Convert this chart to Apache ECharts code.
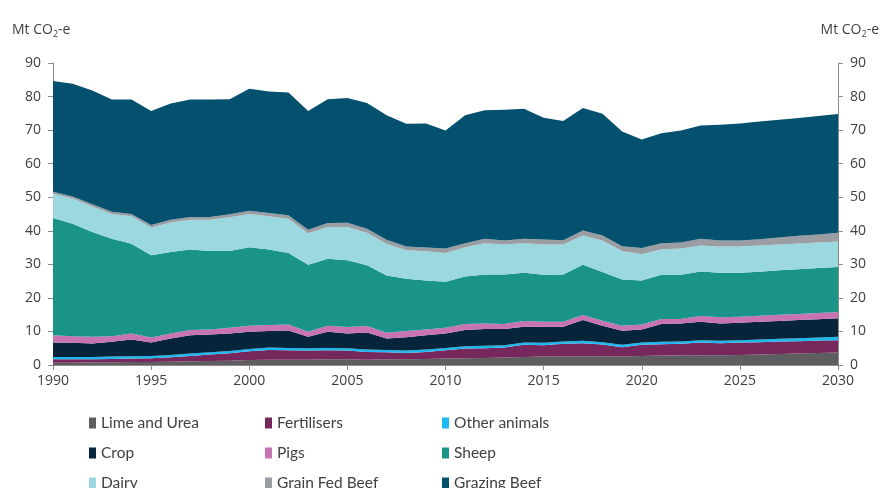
<!DOCTYPE html>
<html><head><meta charset="utf-8">
<script src="https://cdn.jsdelivr.net/npm/echarts@6/dist/echarts.min.js"></script>
<style>html,body{margin:0;padding:0;background:#fff}#c{width:884px;height:488px}</style>
</head><body><div id="c"></div>
<script>
var years = [];
for (var y = 1990; y <= 2030; y++) years.push(String(y));

var limeUrea    = [0.7,0.7,0.8,0.8,0.9,0.9,1.0,1.1,1.2,1.3,1.5,1.6,1.6,1.6,1.7,1.7,1.6,1.7,1.7,1.8,1.9,2.0,2.1,2.2,2.4,2.5,2.5,2.6,2.6,2.5,2.7,2.8,2.8,2.9,2.9,3.0,3.1,3.3,3.4,3.6,3.7];
var fertilisers = [1.0,1.0,0.9,1.0,1.0,1.1,1.3,1.6,1.9,2.2,2.6,2.9,2.8,2.7,2.7,2.6,2.3,2.1,1.9,2.1,2.5,2.9,2.9,3.0,3.6,3.4,3.8,3.9,3.5,2.8,3.3,3.4,3.5,3.8,3.6,3.7,3.7,3.7,3.7,3.7,3.7];
var otherAnimals= [0.7,0.7,0.7,0.7,0.7,0.7,0.7,0.7,0.7,0.7,0.7,0.7,0.7,0.7,0.7,0.7,0.7,0.7,0.7,0.7,0.7,0.7,0.7,0.7,0.7,0.7,0.7,0.7,0.7,0.7,0.7,0.7,0.7,0.7,0.7,0.7,0.8,0.8,0.9,0.9,1.0];
var crop        = [4.3,4.2,4.0,4.4,5.0,4.0,4.9,5.5,5.3,5.2,5.1,4.9,5.2,3.4,4.8,4.4,5.1,3.4,4.0,4.3,4.3,4.8,5.0,4.8,4.7,4.8,4.4,6.2,4.9,4.2,3.9,5.3,5.4,5.5,5.2,5.2,5.3,5.3,5.4,5.4,5.5];
var pigs        = [2.2,2.0,2.0,1.7,1.8,1.5,1.5,1.5,1.5,1.7,1.8,1.8,1.8,1.5,1.8,1.9,1.9,1.7,1.8,1.7,1.7,1.8,1.7,1.5,1.7,1.5,1.5,1.5,1.5,1.5,1.5,1.5,1.3,1.7,1.8,1.8,1.8,1.9,1.8,1.9,1.9];
var sheep       = [34.9,33.5,31.2,29.0,26.7,24.5,24.3,24.0,23.4,22.9,23.4,22.5,21.3,20.0,20.0,19.9,18.1,17.1,15.6,14.6,13.7,14.2,14.6,14.8,14.4,14.0,14.1,15.0,14.5,13.8,13.1,13.2,13.2,13.3,13.3,13.1,13.1,13.2,13.3,13.4,13.4];
var dairy       = [7.2,7.5,7.6,7.4,8.2,8.3,8.8,8.9,9.3,10.0,9.9,9.9,10.2,9.4,9.4,9.9,9.7,9.4,8.5,8.7,8.6,8.7,9.3,8.9,8.8,9.0,8.9,8.7,9.4,8.5,7.8,7.6,7.8,7.7,7.8,7.8,7.8,7.7,7.7,7.6,7.6];
var grainFedBeef= [0.6,0.6,0.7,0.7,0.7,0.7,0.8,0.8,0.8,0.9,1.0,1.0,1.0,1.0,1.2,1.3,1.2,1.2,1.1,1.1,1.3,1.2,1.3,1.2,1.3,1.5,1.3,1.5,1.5,1.4,1.9,1.8,1.8,2.0,1.8,1.8,1.9,2.1,2.3,2.4,2.6];
var grazingBeef = [33.0,33.6,33.9,33.4,34.1,34.0,34.6,35.0,35.0,34.3,36.3,36.2,36.6,35.4,36.9,37.2,37.5,37.1,36.6,37.0,35.2,38.1,38.3,39.0,38.8,36.3,35.5,36.5,36.3,34.2,32.3,32.8,33.4,33.8,34.5,34.9,35.1,35.1,35.1,35.3,35.4];

var seriesDefs = [
  ['Lime and Urea', limeUrea, '#5e5e60'],
  ['Fertilisers', fertilisers, '#76285c'],
  ['Other animals', otherAnimals, '#1cb8f0'],
  ['Crop', crop, '#06243a'],
  ['Pigs', pigs, '#c873b2'],
  ['Sheep', sheep, '#1a9488'],
  ['Dairy', dairy, '#9bd8e0'],
  ['Grain Fed Beef', grainFedBeef, '#9a9da2'],
  ['Grazing Beef', grazingBeef, '#03506f']
];

var series = seriesDefs.map(function (d) {
  return {
    name: d[0], type: 'line', stack: 'total', data: d[1],
    showSymbol: false, symbol: 'none',
    lineStyle: { width: 0 }, areaStyle: { color: d[2], opacity: 1 },
    itemStyle: { color: d[2] }, emphasis: { disabled: true }, animation: false
  };
});

var font = '"Open Sans", "Liberation Sans", sans-serif';
var legFont = 'Lato, "Open Sans", sans-serif';
var txt = '#404040';
function leg(left, names) {
  return {
    orient: 'vertical', left: left, top: 408, height: 110, width: 200,
    itemWidth: 7, itemHeight: 11, itemGap: 10, icon: 'rect',
    textStyle: { fontFamily: legFont, fontSize: 15.5, color: txt, lineHeight: 20 },
    selectedMode: false, data: names
  };
}

var titleRich = {
  a: { fontFamily: font, fontSize: 14, fontWeight: 'normal', color: txt },
  s: { fontFamily: font, fontSize: 9, fontWeight: 'normal', color: txt, padding: [9, 0, 0, 0] }
};

var chart = echarts.init(document.getElementById('c'), null, { renderer: 'canvas' });
chart.setOption({
  animation: false,
  backgroundColor: '#fff',
  title: [
    { text: '{a|Mt CO}{s|2}{a|-e}', left: 7, top: 16, textStyle: { fontWeight: 'normal', rich: titleRich } },
    { text: '{a|Mt CO}{s|2}{a|-e}', right: 0, top: 16, textStyle: { fontWeight: 'normal', rich: titleRich } }
  ],
  legend: [
    leg(84, ['Lime and Urea', 'Crop', 'Dairy']),
    leg(260, ['Fertilisers', 'Pigs', 'Grain Fed Beef']),
    leg(437, ['Other animals', 'Sheep', 'Grazing Beef'])
  ],
  grid: { left: 53, right: 46, top: 63, bottom: 123, containLabel: false },
  xAxis: {
    type: 'category', data: years, boundaryGap: false,
    axisLine: { lineStyle: { color: '#8c8c8c', width: 1 } },
    axisTick: { interval: 4, length: 5, lineStyle: { color: '#8c8c8c' } },
    axisLabel: { interval: 4, fontFamily: font, fontSize: 14, color: txt, margin: 9 },
    splitLine: { show: false }
  },
  yAxis: [
    {
      type: 'value', min: 0, max: 90, interval: 10, position: 'left',
      axisLine: { show: true, lineStyle: { color: '#8c8c8c' } },
      axisTick: { show: true, length: 5, lineStyle: { color: '#8c8c8c' } },
      axisLabel: { fontFamily: font, fontSize: 14, color: txt, margin: 12 },
      splitLine: { show: false }
    },
    {
      type: 'value', min: 0, max: 90, interval: 10, position: 'right',
      axisLine: { show: true, lineStyle: { color: '#8c8c8c' } },
      axisTick: { show: true, length: 5, lineStyle: { color: '#8c8c8c' } },
      axisLabel: { fontFamily: font, fontSize: 14, color: txt, margin: 12 },
      splitLine: { show: false }
    }
  ],
  series: series
});
</script>
</body></html>
